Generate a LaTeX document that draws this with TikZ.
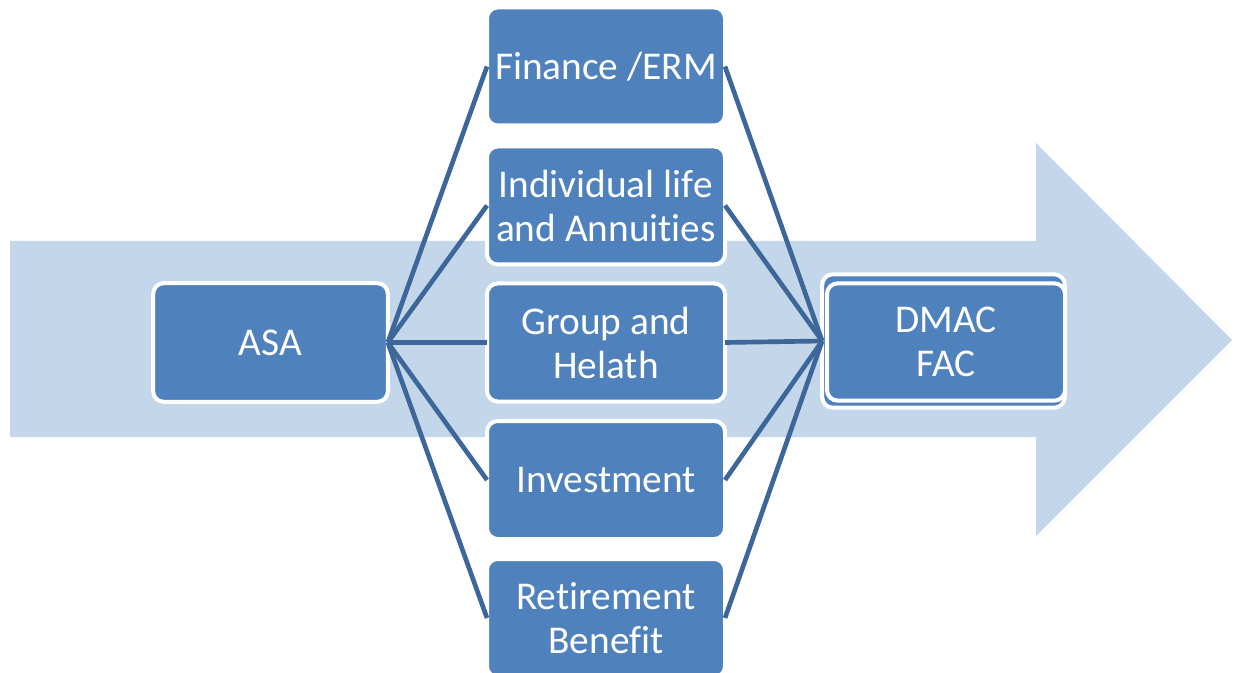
\documentclass[tikz,border=0pt]{standalone}
\usepackage{fontspec}
\setmainfont{Carlito}[Ligatures={NoCommon,NoContextual},Contextuals=NoAlternate]
\definecolor{arrowblue}{HTML}{C4D6E9}
\definecolor{boxblue}{HTML}{4F81BD}
\definecolor{linkblue}{HTML}{3D679B}
\newcommand{\nolig}{\kern0pt{}}
\begin{document}
\begin{tikzpicture}[x=0.75pt,y=-0.75pt,
  card/.style={draw=white, line width=3pt, fill=boxblue, rounded corners=8pt,
    outer sep=0pt, inner sep=0pt, text=white, align=center,
    font=\fontsize{29.5}{33}\selectfont},
  midcard/.style={card, minimum width=178.5pt, minimum height=88.5pt},
  link/.style={draw=linkblue, line width=3.5pt}]
\useasboundingbox (0,0) rectangle (1237,673);
% big background arrow
\fill[arrowblue] (10,241) -- (1036,241) -- (1036,143) -- (1232,340) -- (1036,536) -- (1036,437) -- (10,437) -- cycle;
% nodes
\node[card, minimum width=176pt, minimum height=89pt] (asa) at (270.5,342.5) {ASA};
\node[midcard] (fin) at (606,66.5) {Finance /ERM};
\node[midcard] (ind) at (606,205.5) {Individual lif\nolig e\\and Annuit\nolig ies};
\node[midcard] (grp) at (606,342.5) {Group and\\Helath};
\node[midcard] (inv) at (606,480) {Investment};
\node[midcard] (ret) at (606,618) {Ret\nolig irement\\Benef\nolig it};
\node[card, minimum width=182pt, minimum height=100pt] (dmacback) at (943.5,341) {};
\node[card, minimum width=178.5pt, minimum height=88pt] (dmac) at (946,342) {DMAC\\FAC};
% connectors
\foreach \m in {fin,ind,grp,inv,ret}{
  \draw[link] (asa.east) -- (\m.west);
  \draw[link] (\m.east) -- (dmacback.west);
}
\end{tikzpicture}
\end{document}
